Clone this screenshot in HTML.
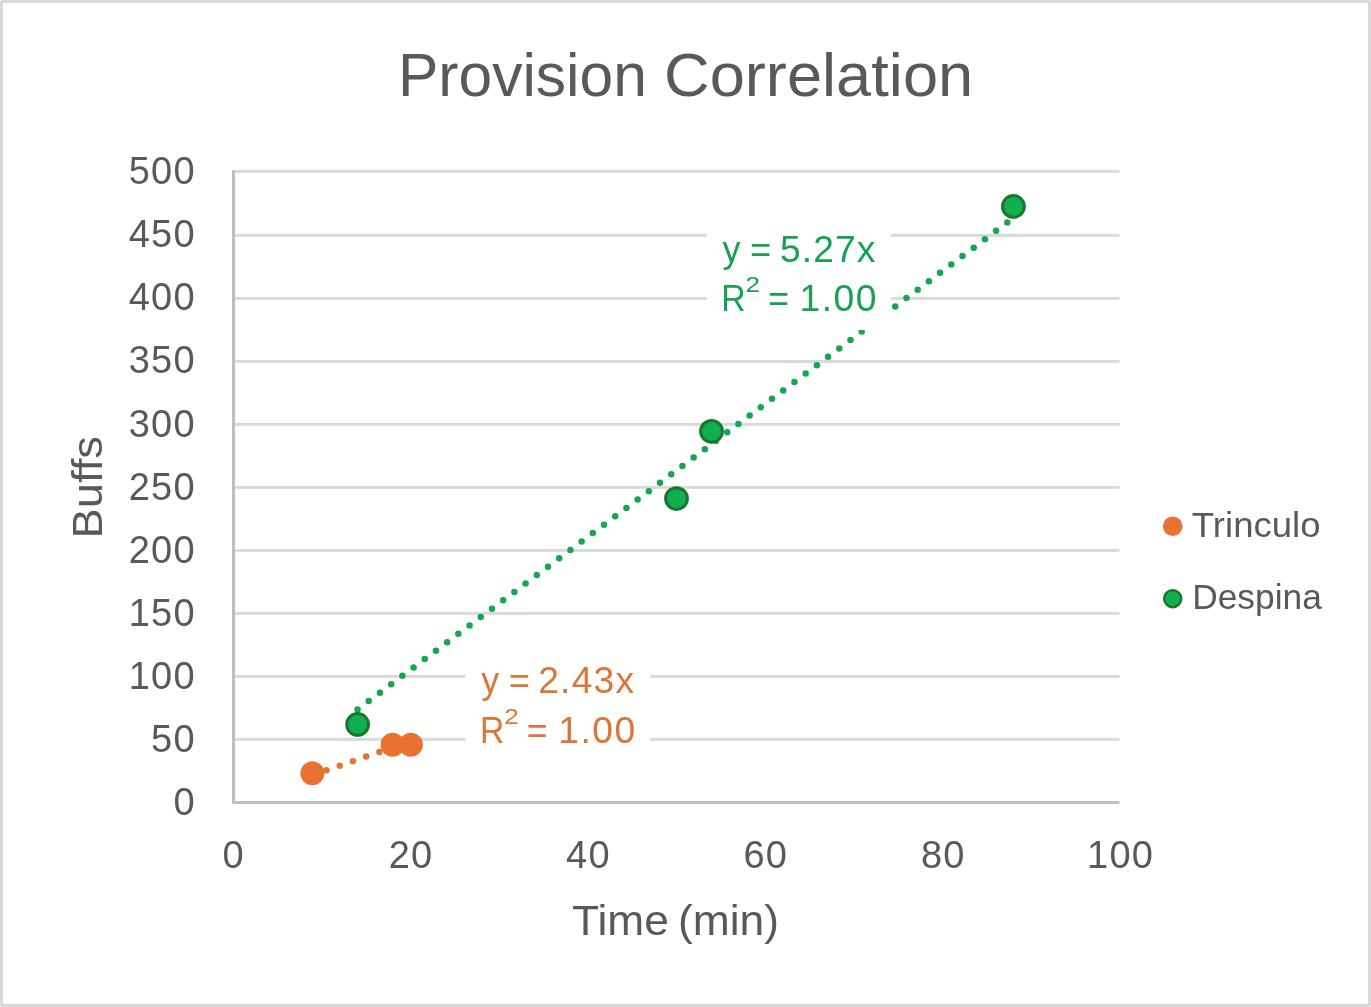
<!DOCTYPE html>
<html lang="en"><head><meta charset="utf-8"><title>Provision Correlation</title>
<style>html,body{margin:0;padding:0;background:#fff;}body{width:1371px;height:1007px;overflow:hidden;}svg{display:block;}text{font-family:"Liberation Sans",Arial,sans-serif;}</style>
</head><body>
<svg width="1371" height="1007" viewBox="0 0 1371 1007">
<rect x="0" y="0" width="1371" height="1007" fill="#ffffff"/>
<rect x="1.5" y="1.5" width="1368" height="1004" rx="1" fill="none" stroke="#d9d9d9" stroke-width="3"/>
<g fill="#d9d9d9">
<rect x="232" y="737.95" width="887.5" height="2.9"/>
<rect x="232" y="674.95" width="887.5" height="2.9"/>
<rect x="232" y="611.95" width="887.5" height="2.9"/>
<rect x="232" y="548.95" width="887.5" height="2.9"/>
<rect x="232" y="485.95" width="887.5" height="2.9"/>
<rect x="232" y="422.95" width="887.5" height="2.9"/>
<rect x="232" y="359.95" width="887.5" height="2.9"/>
<rect x="232" y="296.95" width="887.5" height="2.9"/>
<rect x="232" y="233.95" width="887.5" height="2.9"/>
<rect x="232" y="169.95" width="887.5" height="2.9"/>
</g>
<rect x="232" y="170" width="3" height="634" fill="#bfbfbf"/>
<rect x="232" y="801" width="887.5" height="3" fill="#bfbfbf"/>
<text y="96.4" font-size="61" fill="#595959"><tspan x="397.93" textLength="249.0" lengthAdjust="spacingAndGlyphs">Provision</tspan> <tspan x="663.99" textLength="309.22" lengthAdjust="spacingAndGlyphs">Correlation</tspan></text>
<g font-size="38" fill="#595959" letter-spacing="1.17">
<text x="173.4" y="815.0">0</text>
<text x="151.1" y="751.9">50</text>
<text x="128.8" y="688.8">100</text>
<text x="128.8" y="625.8">150</text>
<text x="128.8" y="562.7">200</text>
<text x="128.8" y="499.6">250</text>
<text x="128.8" y="436.5">300</text>
<text x="128.8" y="373.4">350</text>
<text x="128.8" y="310.4">400</text>
<text x="128.8" y="247.3">450</text>
<text x="128.8" y="184.2">500</text>
<text x="222.4" y="867.7">0</text>
<text x="388.7" y="867.7">20</text>
<text x="566.1" y="867.7">40</text>
<text x="743.5" y="867.7">60</text>
<text x="920.9" y="867.7">80</text>
<text x="1087.1" y="867.7">100</text>
</g>
<text y="935.3" font-size="42.5" fill="#595959"><tspan x="572.12" textLength="96.81" lengthAdjust="spacingAndGlyphs">Time</tspan> <tspan x="677.95" textLength="101.11" lengthAdjust="spacingAndGlyphs">(min)</tspan></text>
<text transform="translate(102.1,538.49) rotate(-90)" font-size="42.5" fill="#595959" textLength="102.52" lengthAdjust="spacingAndGlyphs">Buffs</text>
<g fill="#17a551">
<circle cx="357.54" cy="709.44" r="3.25"/>
<circle cx="368.74" cy="701.04" r="3.25"/>
<circle cx="379.95" cy="692.64" r="3.25"/>
<circle cx="391.15" cy="684.25" r="3.25"/>
<circle cx="402.35" cy="675.85" r="3.25"/>
<circle cx="413.55" cy="667.46" r="3.25"/>
<circle cx="424.76" cy="659.06" r="3.25"/>
<circle cx="435.96" cy="650.66" r="3.25"/>
<circle cx="447.16" cy="642.27" r="3.25"/>
<circle cx="458.37" cy="633.87" r="3.25"/>
<circle cx="469.57" cy="625.48" r="3.25"/>
<circle cx="480.77" cy="617.08" r="3.25"/>
<circle cx="491.97" cy="608.68" r="3.25"/>
<circle cx="503.18" cy="600.29" r="3.25"/>
<circle cx="514.38" cy="591.89" r="3.25"/>
<circle cx="525.58" cy="583.50" r="3.25"/>
<circle cx="536.79" cy="575.10" r="3.25"/>
<circle cx="547.99" cy="566.70" r="3.25"/>
<circle cx="559.19" cy="558.31" r="3.25"/>
<circle cx="570.40" cy="549.91" r="3.25"/>
<circle cx="581.60" cy="541.51" r="3.25"/>
<circle cx="592.80" cy="533.12" r="3.25"/>
<circle cx="604.00" cy="524.72" r="3.25"/>
<circle cx="615.21" cy="516.33" r="3.25"/>
<circle cx="626.41" cy="507.93" r="3.25"/>
<circle cx="637.61" cy="499.53" r="3.25"/>
<circle cx="648.82" cy="491.14" r="3.25"/>
<circle cx="660.02" cy="482.74" r="3.25"/>
<circle cx="671.22" cy="474.35" r="3.25"/>
<circle cx="682.42" cy="465.95" r="3.25"/>
<circle cx="693.63" cy="457.55" r="3.25"/>
<circle cx="704.83" cy="449.16" r="3.25"/>
<circle cx="716.03" cy="440.76" r="3.25"/>
<circle cx="727.24" cy="432.37" r="3.25"/>
<circle cx="738.44" cy="423.97" r="3.25"/>
<circle cx="749.64" cy="415.57" r="3.25"/>
<circle cx="760.84" cy="407.18" r="3.25"/>
<circle cx="772.05" cy="398.78" r="3.25"/>
<circle cx="783.25" cy="390.38" r="3.25"/>
<circle cx="794.45" cy="381.99" r="3.25"/>
<circle cx="805.66" cy="373.59" r="3.25"/>
<circle cx="816.86" cy="365.20" r="3.25"/>
<circle cx="828.06" cy="356.80" r="3.25"/>
<circle cx="839.27" cy="348.40" r="3.25"/>
<circle cx="850.47" cy="340.01" r="3.25"/>
<circle cx="861.67" cy="331.61" r="3.25"/>
<circle cx="872.87" cy="323.22" r="3.25"/>
<circle cx="884.08" cy="314.82" r="3.25"/>
<circle cx="895.28" cy="306.42" r="3.25"/>
<circle cx="906.48" cy="298.03" r="3.25"/>
<circle cx="917.69" cy="289.63" r="3.25"/>
<circle cx="928.89" cy="281.24" r="3.25"/>
<circle cx="940.09" cy="272.84" r="3.25"/>
<circle cx="951.29" cy="264.44" r="3.25"/>
<circle cx="962.50" cy="256.05" r="3.25"/>
<circle cx="973.70" cy="247.65" r="3.25"/>
<circle cx="984.90" cy="239.25" r="3.25"/>
<circle cx="996.11" cy="230.86" r="3.25"/>
<circle cx="1007.31" cy="222.46" r="3.25"/>
</g>
<g fill="#e27535">
<circle cx="313.24" cy="774.84" r="3.25"/>
<circle cx="326.47" cy="770.27" r="3.25"/>
<circle cx="339.70" cy="765.70" r="3.25"/>
<circle cx="352.94" cy="761.13" r="3.25"/>
<circle cx="366.17" cy="756.55" r="3.25"/>
<circle cx="379.40" cy="751.98" r="3.25"/>
<circle cx="392.63" cy="747.41" r="3.25"/>
<circle cx="405.87" cy="742.83" r="3.25"/>
</g>
<rect x="706.7" y="222" width="184.3" height="108" fill="#ffffff"/>
<rect x="465.6" y="653.5" width="184.5" height="108" fill="#ffffff"/>
<g fill="#e97132">
<circle cx="312.4" cy="773.3" r="12"/>
<circle cx="392.6" cy="744.8" r="12"/>
<circle cx="410.9" cy="744.8" r="12"/>
</g>
<g fill="#10b050" stroke="#19762f" stroke-width="3">
<circle cx="357.6" cy="724.4" r="10.9"/>
<circle cx="676.5" cy="498.6" r="10.9"/>
<circle cx="711.5" cy="431.3" r="10.9"/>
<circle cx="1013.4" cy="206.4" r="10.9"/>
</g>
<text y="262.0" font-size="37.3" fill="#18a150"><tspan x="722.61" textLength="17.96" lengthAdjust="spacingAndGlyphs">y</tspan> <tspan x="750.12" textLength="21.28" lengthAdjust="spacingAndGlyphs">=</tspan> <tspan x="779.91" letter-spacing="1.062">5.27x</tspan></text>
<text y="311.2" font-size="37.3" fill="#18a150"><tspan x="721.24" textLength="24.33" lengthAdjust="spacingAndGlyphs">R</tspan><tspan font-size="22.2" y="291.8"><tspan x="745.59" textLength="14.53" lengthAdjust="spacingAndGlyphs">2</tspan></tspan><tspan y="311.2"> </tspan><tspan x="768.16" textLength="20.79" lengthAdjust="spacingAndGlyphs" y="311.2">=</tspan> <tspan x="799.56" letter-spacing="1.434">1.00</tspan></text>
<text y="692.8" font-size="37.3" fill="#dc7538"><tspan x="481.31" textLength="17.96" lengthAdjust="spacingAndGlyphs">y</tspan> <tspan x="508.82" textLength="21.28" lengthAdjust="spacingAndGlyphs">=</tspan> <tspan x="538.22" letter-spacing="1.158">2.43x</tspan></text>
<text y="742.9" font-size="37.3" fill="#dc7538"><tspan x="479.94" textLength="24.33" lengthAdjust="spacingAndGlyphs">R</tspan><tspan font-size="22.2" y="723.5"><tspan x="504.29" textLength="14.53" lengthAdjust="spacingAndGlyphs">2</tspan></tspan><tspan y="742.9"> </tspan><tspan x="526.86" textLength="20.79" lengthAdjust="spacingAndGlyphs" y="742.9">=</tspan> <tspan x="558.26" letter-spacing="1.434">1.00</tspan></text>
<circle cx="1172.7" cy="526.2" r="9.8" fill="#e97132"/>
<circle cx="1172.7" cy="598.7" r="8.5" fill="#10b050" stroke="#19762f" stroke-width="2.5"/>
<text x="1191.89" y="537.1" font-size="35" fill="#595959" textLength="128.63" lengthAdjust="spacingAndGlyphs">Trinculo</text>
<text x="1192.2" y="609.2" font-size="35" fill="#595959" textLength="129.6" lengthAdjust="spacingAndGlyphs">Despina</text>
</svg></body></html>
